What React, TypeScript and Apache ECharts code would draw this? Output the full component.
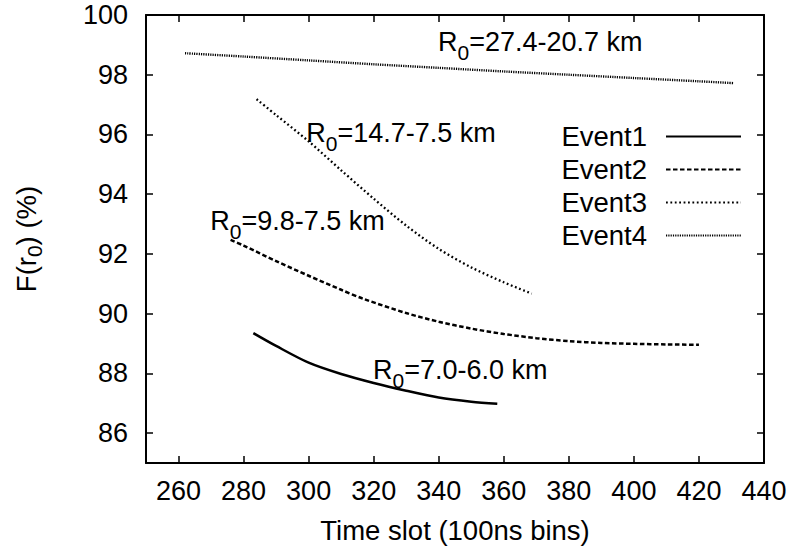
import React, { useEffect, useRef } from 'react';
import * as echarts from 'echarts';

const xTicks = [260, 280, 300, 320, 340, 360, 380, 400, 420, 440];
const yTicks = [86, 88, 90, 92, 94, 96, 98, 100];

const seriesNames = ['Event1', 'Event2', 'Event3', 'Event4'];

const event1X = [283, 290, 300, 310, 320, 330, 340, 350, 358];
const event1Y = [89.35, 88.92, 88.36, 87.98, 87.68, 87.42, 87.19, 87.05, 86.98];

const event2X = [276, 280, 290, 300, 310, 317, 330, 340, 350, 360, 370, 380, 390, 400, 410, 420];
const event2Y = [92.47, 92.28, 91.76, 91.27, 90.8, 90.49, 90.02, 89.73, 89.5, 89.32, 89.18, 89.08, 89.02, 88.99, 88.97, 88.96];

const event3X = [284, 290, 300, 310, 320, 330, 340, 350, 360, 368.6];
const event3Y = [97.18, 96.65, 95.77, 94.8, 93.85, 92.95, 92.17, 91.55, 91.05, 90.67];

const event4X = [262, 280, 300, 320, 340, 360, 380, 400, 420, 430.6];
const event4Y = [98.72, 98.61, 98.48, 98.35, 98.23, 98.11, 98.0, 97.89, 97.78, 97.72];

// annotation texts (after "R0") and their anchors in data coordinates
const annotationTexts = ['=7.0-6.0 km', '=9.8-7.5 km', '=14.7-7.5 km', '=27.4-20.7 km'];
const annotationX = [320.4, 270.4, 299.9, 340.4];
const annotationY = [88.1, 93.09, 96.04, 99.08];

const FONT = '"Liberation Sans", Arial, Helvetica, sans-serif';
const FS = 27;

export default function App() {
  const ref = useRef<HTMLDivElement>(null);

  useEffect(() => {
    const chart = echarts.init(ref.current as HTMLDivElement, null, { renderer: 'svg' });

    const xs = [event1X, event2X, event3X, event4X];
    const ys = [event1Y, event2Y, event3Y, event4Y];
    const lineStyles: any[] = [
      { type: 'solid', width: 2.5 },
      { type: [4.5, 2.5], width: 2.5 },
      { type: [1.8, 2.6], width: 2.3 },
      { type: [1.2, 1.1], width: 2.4 },
    ];

    const axisLine = { show: true, onZero: false, lineStyle: { color: '#000', width: 2 } };
    const tickStyle = { color: '#000', width: 1.5 };

    const option: any = {
      animation: false,
      backgroundColor: '#fff',
      textStyle: { fontFamily: FONT },
      grid: { left: 146, right: 31, top: 15, bottom: 92, containLabel: false, outerBoundsMode: 'none' },
      xAxis: [
        {
          type: 'value',
          min: 250,
          max: 440,
          position: 'bottom',
          name: 'Time slot (100ns bins)',
          nameLocation: 'middle',
          nameGap: 53,
          nameMoveOverlap: false,
          nameTextStyle: { fontSize: 27.5, color: '#000', fontFamily: FONT },
          axisLine,
          axisTick: { show: true, inside: true, length: 7, lineStyle: tickStyle, customValues: xTicks },
          axisLabel: { show: true, customValues: xTicks, fontSize: FS, color: '#000', margin: 14, fontFamily: FONT },
          splitLine: { show: false },
        },
        {
          type: 'value',
          min: 250,
          max: 440,
          position: 'top',
          axisLine,
          axisTick: { show: true, inside: true, length: 7, lineStyle: tickStyle, customValues: xTicks },
          axisLabel: { show: false },
          splitLine: { show: false },
        },
      ],
      yAxis: [
        {
          type: 'value',
          min: 85,
          max: 100,
          position: 'left',
          name: '{b|F(r}{s|0}{b|) (%)}',
          nameLocation: 'middle',
          nameRotate: 90,
          nameGap: 107,
          nameMoveOverlap: false,
          nameTextStyle: {
            color: '#000',
            fontFamily: FONT,
            rich: {
              b: { fontSize: 27.5, fontFamily: FONT, color: '#000', lineHeight: 27, verticalAlign: 'top' },
              s: { fontSize: 21, fontFamily: FONT, color: '#000', lineHeight: 21, verticalAlign: 'top', padding: [12, 0, 0, 0] },
            },
          },
          axisLine,
          axisTick: { show: true, inside: true, length: 7, lineStyle: tickStyle, customValues: yTicks },
          axisLabel: { show: true, customValues: yTicks, fontSize: FS, color: '#000', margin: 18, fontFamily: FONT },
          splitLine: { show: false },
        },
        {
          type: 'value',
          min: 85,
          max: 100,
          position: 'right',
          axisLine,
          axisTick: { show: true, inside: true, length: 7, lineStyle: tickStyle, customValues: yTicks },
          axisLabel: { show: false },
          splitLine: { show: false },
        },
      ],
      legend: {
        orient: 'vertical',
        right: 48,
        top: 115,
        align: 'right',
        itemWidth: 75,
        itemHeight: 14,
        itemGap: 0,
        selectedMode: false,
        itemStyle: { opacity: 0, color: 'transparent', borderColor: 'transparent', borderWidth: 0 },
        textStyle: { fontSize: 27.5, color: '#000', fontFamily: FONT, lineHeight: 33, padding: [0, 14, 0, 0] },
        data: seriesNames,
      },
      series: seriesNames.map((name, i) => ({
        name,
        type: 'line',
        xAxisIndex: 0,
        yAxisIndex: 0,
        symbol: 'none',
        showSymbol: false,
        smooth: 0.3,
        color: '#000',
        lineStyle: { color: '#000', ...lineStyles[i] },
        data: xs[i].map((x, j) => [x, ys[i][j]]),
      })),
    };

    chart.setOption(option);

    const graphics = annotationTexts.map((t, i) => {
      const p = chart.convertToPixel({ xAxisIndex: 0, yAxisIndex: 0 }, [annotationX[i], annotationY[i]]) as number[];
      return {
        type: 'text',
        x: p[0] - 2,
        y: p[1] - 13.5,
        style: {
          text: '{b|R}{s|0}{b|' + t + '}',
          align: 'left',
          verticalAlign: 'top',
          fill: '#000',
          rich: {
            b: { fontSize: 27, fontFamily: FONT, fill: '#000', lineHeight: 27, verticalAlign: 'top' },
            s: { fontSize: 21, fontFamily: FONT, fill: '#000', lineHeight: 21, verticalAlign: 'top', padding: [13, 0, 0, 0] },
          },
        },
      };
    });
    chart.setOption({ graphic: graphics });

    return () => {
      chart.dispose();
    };
  }, []);

  return (
    <div
      ref={ref}
      style={{ position: 'fixed', left: 0, top: 0, width: 795, height: 555, background: '#fff' }}
    />
  );
}
